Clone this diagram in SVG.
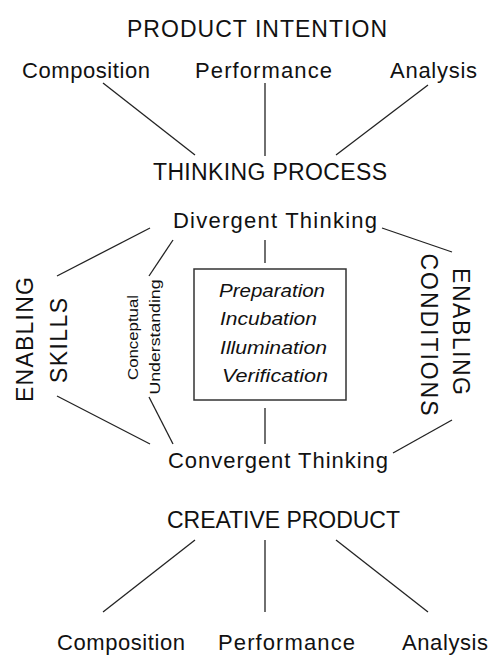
<svg xmlns="http://www.w3.org/2000/svg" width="495" height="655" viewBox="0 0 495 655">
<style>
text{font-family:"Liberation Sans",Arial,sans-serif;fill:#111}
.h{font-size:23px}
.n{font-size:22px}
.i{font-size:18.5px;font-style:italic}
.s{font-size:15.5px}
.c line{stroke:#222;stroke-width:1.3}
</style>
<rect width="495" height="655" fill="#fff"/>
<g class="c" id="connectors">
<line x1="103" y1="83" x2="195" y2="155"/>
<line x1="265" y1="83" x2="265" y2="156"/>
<line x1="428" y1="85" x2="336" y2="155"/>
<line x1="150" y1="228" x2="57" y2="276"/>
<line x1="173" y1="240" x2="149" y2="276"/>
<line x1="265" y1="240" x2="265" y2="263"/>
<line x1="382" y1="228" x2="452" y2="252"/>
<line x1="57" y1="396" x2="150" y2="444"/>
<line x1="149" y1="397" x2="173" y2="444"/>
<line x1="265" y1="408" x2="265" y2="444"/>
<line x1="452" y1="420" x2="393" y2="453"/>
<line x1="195" y1="540" x2="103" y2="612"/>
<line x1="265" y1="540" x2="265" y2="612"/>
<line x1="336" y1="540" x2="428" y2="612"/>
</g>
<g id="product-intention"><text class="h" x="127" y="37" textLength="260">PRODUCT INTENTION</text></g>
<g id="composition-top"><text class="n" x="22" y="78" textLength="128">Composition</text></g>
<g id="performance-top"><text class="n" x="195" y="78" textLength="137">Performance</text></g>
<g id="analysis-top"><text class="n" x="390" y="78" textLength="87">Analysis</text></g>
<g id="thinking-process"><text class="h" x="153" y="180" textLength="234">THINKING PROCESS</text></g>
<g id="divergent"><text class="n" x="173" y="228" textLength="204">Divergent Thinking</text></g>
<g id="enabling-skills">
<text class="h" transform="translate(33,339.5) rotate(-90)" text-anchor="middle" textLength="125">ENABLING</text>
<text class="h" transform="translate(67,340.5) rotate(-90)" text-anchor="middle" textLength="85">SKILLS</text>
</g>
<g id="conceptual-understanding">
<text class="s" transform="translate(138,337.5) rotate(-90)" text-anchor="middle" textLength="85" lengthAdjust="spacingAndGlyphs">Conceptual</text>
<text class="s" transform="translate(160,337) rotate(-90)" text-anchor="middle" textLength="115" lengthAdjust="spacingAndGlyphs">Understanding</text>
</g>
<g id="stages">
<rect x="194" y="269" width="152" height="131" fill="none" stroke="#333" stroke-width="1.5"/>
<text class="i" x="219" y="297" textLength="106" lengthAdjust="spacingAndGlyphs">Preparation</text>
<text class="i" x="220" y="325" textLength="97" lengthAdjust="spacingAndGlyphs">Incubation</text>
<text class="i" x="220" y="354" textLength="107" lengthAdjust="spacingAndGlyphs">Illumination</text>
<text class="i" x="222" y="382" textLength="106" lengthAdjust="spacingAndGlyphs">Verification</text>
</g>
<g id="enabling-conditions">
<text class="h" transform="translate(453,331.5) rotate(90)" text-anchor="middle" textLength="127">ENABLING</text>
<text class="h" transform="translate(421,334.5) rotate(90)" text-anchor="middle" textLength="162">CONDITIONS</text>
</g>
<g id="convergent"><text class="n" x="168" y="468" textLength="220">Convergent Thinking</text></g>
<g id="creative-product"><text class="h" x="167" y="528" textLength="233">CREATIVE PRODUCT</text></g>
<g id="composition-bottom"><text class="n" x="57" y="650" textLength="128">Composition</text></g>
<g id="performance-bottom"><text class="n" x="218" y="650" textLength="137">Performance</text></g>
<g id="analysis-bottom"><text class="n" x="402" y="650" textLength="86">Analysis</text></g>
</svg>
